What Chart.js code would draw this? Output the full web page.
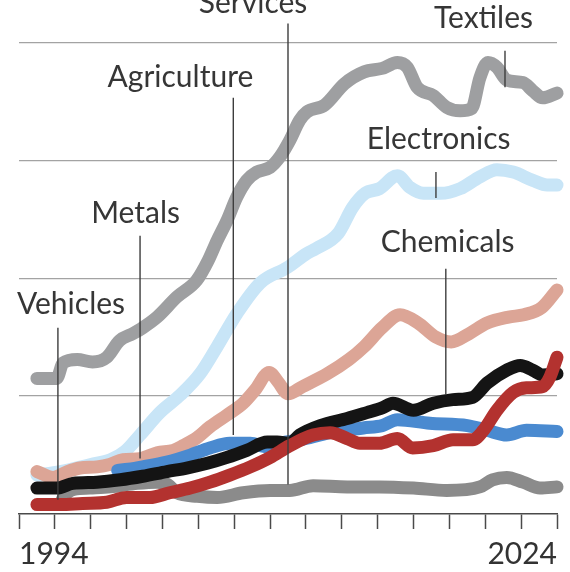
<!DOCTYPE html>
<html>
<head>
<meta charset="utf-8">
<script src="https://cdn.jsdelivr.net/npm/chart.js@4.4.1/dist/chart.umd.min.js"></script>
<style>
html,body{margin:0;padding:0;background:#ffffff;overflow:hidden}
#wrap{width:570px;height:572px}
</style>
</head>
<body>
<div id="wrap"><canvas id="c" width="570" height="572"></canvas></div>
<script>
// ---- Data (x = year, y = index; gridlines every 100) ----
const tickYears = [1994, 2024];

const vehiclesYears  = [1995, 1996.3, 1997.55, 1998.9, 2000.0, 2001.3, 2002.4, 2003.55, 2004.65, 2005.75, 2006.9, 2008.0, 2009.1, 2010.4, 2011.35, 2012.3, 2013.0, 2014.1, 2015.1, 2015.95, 2017.1, 2018.2, 2019.3, 2019.9, 2020.65, 2021.55, 2022.3, 2023.2, 2023.6, 2024.0];
const vehiclesValues = [8, 8, 9, 10, 14, 14, 18, 22, 27, 33, 40, 48, 58, 67, 69, 64, 60, 60, 64, 56, 58, 63, 63, 71, 88, 103, 107, 108, 116, 133];

const chemicalsYears  = [1995, 1996.1, 1997.0, 1998.35, 1999.65, 2000.9, 2002.25, 2003.35, 2004.5, 2005.6, 2006.7, 2007.85, 2008.4, 2009.1, 2009.65, 2010.8, 2012.3, 2013.4, 2014.25, 2014.85, 2016.0, 2017.1, 2018.2, 2019.3, 2020.1, 2021.2, 2021.95, 2022.65, 2023.2, 2024.0];
const chemicalsValues = [22, 22, 26, 27, 29, 32, 36, 39, 43, 48, 54, 61, 61, 60, 67, 75, 81, 86, 90, 94, 88, 94, 97, 99, 111, 122, 126, 122, 118, 119];

const agricultureYears  = [1999.5, 2000.1, 2000.9, 2002.25, 2003.55, 2004.65, 2005.75, 2006.9, 2007.85, 2008.85, 2009.65, 2011.35, 2013.2, 2014.25, 2015.1, 2016.9, 2019.0, 2020.1, 2021.2, 2022.3, 2024.0];
const agricultureValues = [37, 38, 40, 44, 50, 56, 60, 60, 57, 61, 63, 69, 73, 75, 80, 77, 75, 71, 67, 71, 70];

const servicesYears  = [1996.4, 1996.7, 1997.1, 1997.95, 1999.1, 2000.6, 2001.7, 2002.3, 2002.8, 2003.95, 2005.05, 2006.5, 2008.0, 2009.1, 2010.4, 2012.3, 2014.1, 2016.0, 2017.85, 2019.7, 2020.4, 2021.2, 2022.1, 2023.05, 2024.0];
const servicesValues = [12, 18, 21, 22, 23, 26, 27, 25, 18, 15, 14, 18, 20, 20, 24, 23, 23, 22, 20, 23, 29, 31, 27, 22, 23];

const metalsYears  = [1995, 1995.9, 1996.7, 1997.4, 1998.35, 1999.05, 1999.8, 2000.75, 2001.7, 2002.6, 2003.15, 2003.95, 2004.65, 2005.6, 2006.5, 2007.15, 2007.95, 2008.45, 2009.0, 2009.8, 2011.2, 2012.4, 2013.25, 2014.25, 2015.25, 2016.25, 2017.25, 2018.1, 2019.1, 2020.1, 2021.3, 2022.15, 2023.15, 2024.0];
const metalsValues = [36, 31, 36, 39, 40, 42, 46, 47, 52, 54, 58, 65, 74, 84, 94, 105, 120, 112, 102, 108, 119, 131, 142, 158, 169, 162, 150, 146, 153, 162, 167, 169, 175, 190];

const electronicsYears  = [1995, 1996.3, 1998.0, 1999.1, 1999.9, 2000.75, 2001.85, 2003.0, 2004.1, 2005.05, 2006.15, 2007.45, 2008.95, 2010.05, 2010.55, 2011.8, 2012.6, 2013.3, 2014.1, 2015.1, 2015.8, 2016.55, 2017.5, 2018.6, 2019.7, 2020.65, 2021.55, 2022.65, 2023.45, 2024.0];
const electronicsValues = [33, 36, 42, 46, 53, 67, 86, 101, 119, 142, 170, 196, 209, 221, 225, 238, 260, 272, 276, 287, 277, 272, 272, 276, 286, 292, 290, 283, 279, 279];

const textilesYears  = [1995, 1996.1, 1996.45, 1997.25, 1998.1, 1998.9, 1999.6, 2000.35, 2000.9, 2001.7, 2002.8, 2003.9, 2004.55, 2005.05, 2005.6, 2006.15, 2006.7, 2007.25, 2008.0, 2008.55, 2009.1, 2009.65, 2010.05, 2011.05, 2012.15, 2013.25, 2014.25, 2015.1, 2015.65, 2016.2, 2017.1, 2017.85, 2018.6, 2019.25, 2019.7, 2020.15, 2020.65, 2021.2, 2022.1, 2022.65, 2023.2, 2024.0];
const textilesValues = [115, 115, 128, 131, 129, 133, 147, 153, 158, 167, 184, 198, 215, 232, 249, 269, 283, 290, 294, 303, 317, 334, 341, 347, 365, 375, 378, 383, 379, 362, 355, 345, 342, 344, 370, 383, 379, 368, 366, 359, 353, 357];

const seriesNames = ['Vehicles', 'Chemicals', 'Agriculture', 'Services', 'Metals', 'Electronics', 'Textiles'];

// ---- Styles / layout (kept separate from data) ----
const seriesColors = {
  Vehicles: '#b3322f', Chemicals: '#141414', Agriculture: '#4a8ad0', Services: '#8b8b8b',
  Metals: '#dca596', Electronics: '#c8e5f7', Textiles: '#9e9fa1'
};
const seriesData = {
  Vehicles: [vehiclesYears, vehiclesValues], Chemicals: [chemicalsYears, chemicalsValues],
  Agriculture: [agricultureYears, agricultureValues], Services: [servicesYears, servicesValues],
  Metals: [metalsYears, metalsValues], Electronics: [electronicsYears, electronicsValues],
  Textiles: [textilesYears, textilesValues]
};
// callout: text centre year, text baseline value, leader year, leader top & bottom values
const callouts = [
  {name: 'Services',    tx: 2007.05, ty: 425, lx: 2009.0,  l1: 416, l2: 25},
  {name: 'Textiles',    tx: 2019.9,  ty: 412, lx: 2021.1,  l1: 393, l2: 362},
  {name: 'Agriculture', tx: 2003.0,  ty: 362, lx: 2005.95, l1: 353, l2: 67},
  {name: 'Electronics', tx: 2017.4,  ty: 310, lx: 2017.25, l1: 290, l2: 268},
  {name: 'Metals',      tx: 2000.5,  ty: 247, lx: 2000.75, l1: 236, l2: 47},
  {name: 'Chemicals',   tx: 2017.9,  ty: 222, lx: 2017.8,  l1: 208, l2: 101},
  {name: 'Vehicles',    tx: 1996.9,  ty: 170, lx: 1996.17, l1: 158, l2: 12}
];
const FONT = 'Lato, "Noto Sans", sans-serif';

const calloutPlugin = {
  id: 'callouts',
  afterDatasetsDraw(chart) {
    const {ctx, scales: {x, y}} = chart;
    ctx.save();
    ctx.strokeStyle = '#3d3d3d';
    ctx.lineWidth = 1.4;
    callouts.forEach(c => {
      const px = x.getPixelForValue(c.lx);
      ctx.beginPath();
      ctx.moveTo(px, y.getPixelForValue(c.l1));
      ctx.lineTo(px, y.getPixelForValue(c.l2));
      ctx.stroke();
    });
    ctx.fillStyle = '#363636';
    ctx.font = '30px ' + FONT;
    ctx.textAlign = 'center';
    ctx.textBaseline = 'alphabetic';
    callouts.forEach(c => {
      ctx.fillText(c.name, x.getPixelForValue(c.tx), y.getPixelForValue(c.ty));
    });
    ctx.restore();
  }
};

const datasets = seriesNames.map(n => ({
  label: n,
  data: seriesData[n][0].map((yr, i) => ({x: yr, y: seriesData[n][1][i]})),
  borderColor: seriesColors[n],
  backgroundColor: seriesColors[n],
  borderWidth: 13,
  borderCapStyle: 'round',
  borderJoinStyle: 'round',
  pointRadius: 0,
  cubicInterpolationMode: 'monotone',
  fill: false,
  clip: false
}));

new Chart(document.getElementById('c'), {
  type: 'line',
  data: {datasets},
  plugins: [calloutPlugin],
  options: {
    responsive: false,
    animation: false,
    events: [],
    layout: {padding: {left: 19, right: 13, top: 0, bottom: 0}},
    plugins: {legend: {display: false}, tooltip: {enabled: false}},
    scales: {
      x: {
        type: 'linear',
        min: 1994, max: 2024,
        afterFit: s => { s.height = 58; },
        grid: {drawOnChartArea: false, drawTicks: true, tickLength: 15, tickColor: '#4a4a4a', tickWidth: 1.5},
        border: {display: true, color: '#4a4a4a', width: 1.5},
        ticks: {
          stepSize: 2, autoSkip: false, maxRotation: 0, align: 'inner', padding: 8,
          color: '#333333',
          font: {family: FONT, size: 30, lineHeight: 1.15},
          callback: v => tickYears.includes(v) ? String(v) : ''
        }
      },
      y: {
        min: 0, max: 436,
        afterFit: s => { s.width = 0; },
        afterBuildTicks: s => { s.ticks = [0, 100, 200, 300, 400].map(v => ({value: v})); },
        grid: {
          drawTicks: false,
          lineWidth: 1.3,
          color: c => c.tick && c.tick.value > 0 ? '#a3a3a3' : 'rgba(0,0,0,0)'
        },
        border: {display: false},
        ticks: {display: false}
      }
    }
  }
});
</script>
</body>
</html>
